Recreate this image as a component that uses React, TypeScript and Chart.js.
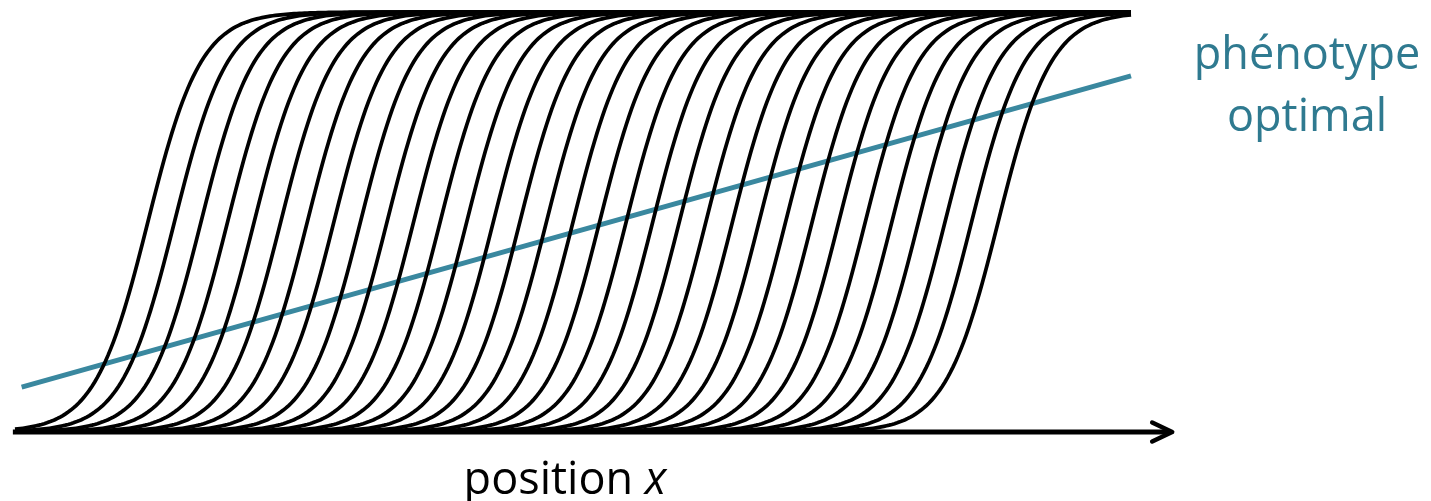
import React, { useEffect, useRef } from "react";
import { Chart, registerables } from "chart.js";

Chart.register(...registerables);

// Centres of the successive clines along the position axis
const clineCentres = [
  5, 6, 7, 8, 9, 10, 11, 12, 13, 14, 15, 16, 17, 18, 19, 20, 21,
  22, 23, 24, 25, 26, 27, 28, 29, 30, 31, 32, 33, 34, 35, 36, 37,
];
// Logistic width of each cline (same units as position)
const clineWidth = 1;
// Position axis extent
const positionRange = [0, 42];
const sampleStep = 0.1;

// Optimal phenotype: straight line across the gradient
const optimumX = [0.25, 42];
const optimumY = [0.107, 0.848];

// Axis arrow extent (position units)
const axisFrom = -0.08;
const axisTo = 43.55;

const BLUE_LINE = "#3a889f";
const BLUE_TEXT = "#2f7a90";

function clinePoints(centre: number) {
  const pts: { x: number; y: number }[] = [];
  const n = Math.round((positionRange[1] - positionRange[0]) / sampleStep);
  for (let i = 0; i <= n; i++) {
    const x = positionRange[0] + i * sampleStep;
    pts.push({ x, y: 1 / (1 + Math.exp(-(x - centre) / clineWidth)) });
  }
  return pts;
}

const axisArrow = {
  id: "axisArrow",
  afterDatasetsDraw(chart: any) {
    const { ctx, scales } = chart;
    const xs = scales.x;
    const ys = scales.y;
    const y0 = ys.getPixelForValue(0);
    const x0 = xs.getPixelForValue(axisFrom);
    const x1 = xs.getPixelForValue(axisTo);
    ctx.save();
    ctx.strokeStyle = "#000";
    ctx.lineWidth = 5;
    ctx.lineCap = "butt";
    ctx.beginPath();
    ctx.moveTo(x0, y0);
    ctx.lineTo(x1 - 3, y0);
    ctx.stroke();
    ctx.lineCap = "round";
    ctx.lineJoin = "round";
    ctx.lineWidth = 4.5;
    ctx.beginPath();
    ctx.moveTo(x1 - 20, y0 - 9.5);
    ctx.lineTo(x1, y0);
    ctx.lineTo(x1 - 20, y0 + 9.5);
    ctx.stroke();
    ctx.restore();
  },
};

export default function App() {
  const canvasRef = useRef<HTMLCanvasElement | null>(null);

  useEffect(() => {
    document.body.style.margin = "0";
    const canvas = canvasRef.current;
    if (!canvas) return;

    const clineSets = clineCentres.map((c) => ({
      data: clinePoints(c),
      borderColor: "#000",
      borderWidth: 3.7,
      pointRadius: 0,
      fill: false,
      tension: 0,
      clip: false as any,
      order: 1,
    }));

    const optimumSet = {
      data: optimumX.map((x, i) => ({ x, y: optimumY[i] })),
      borderColor: BLUE_LINE,
      borderWidth: 5,
      pointRadius: 0,
      fill: false,
      clip: false as any,
      order: 2,
    };

    const chart = new Chart(canvas, {
      type: "line",
      data: { datasets: [...clineSets, optimumSet] as any },
      options: {
        animation: false,
        responsive: false,
        devicePixelRatio: 1,
        layout: { padding: { left: 15, right: 300, top: 12, bottom: 69 } },
        plugins: {
          legend: { display: false },
          tooltip: { enabled: false },
        },
        scales: {
          x: {
            type: "linear",
            min: positionRange[0],
            max: positionRange[1],
            display: false,
          },
          y: { type: "linear", min: 0, max: 1, display: false },
        },
      },
      plugins: [axisArrow],
    });

    return () => chart.destroy();
  }, []);

  const font = '"Open Sans", "Noto Sans", sans-serif';

  return (
    <div
      style={{
        position: "relative",
        width: 1431,
        height: 501,
        background: "#fff",
        overflow: "hidden",
      }}
    >
      <canvas
        ref={canvasRef}
        width={1431}
        height={501}
        style={{ position: "absolute", left: 0, top: 0, width: 1431, height: 501 }}
      />
      <div
        style={{
          position: "absolute",
          left: 1187,
          top: 29,
          width: 240,
          textAlign: "center",
          fontFamily: font,
          fontSize: 45,
          color: BLUE_TEXT,
        }}
      >
        <div style={{ lineHeight: "45px" }}>phénotype</div>
        <div style={{ lineHeight: "45px", marginTop: 17 }}>optimal</div>
      </div>
      <div
        style={{
          position: "absolute",
          left: 445,
          top: 455,
          width: 240,
          textAlign: "center",
          fontFamily: font,
          fontSize: 45,
          lineHeight: "44px",
          color: "#000",
          whiteSpace: "nowrap",
        }}
      >
        position <i>x</i>
      </div>
    </div>
  );
}
